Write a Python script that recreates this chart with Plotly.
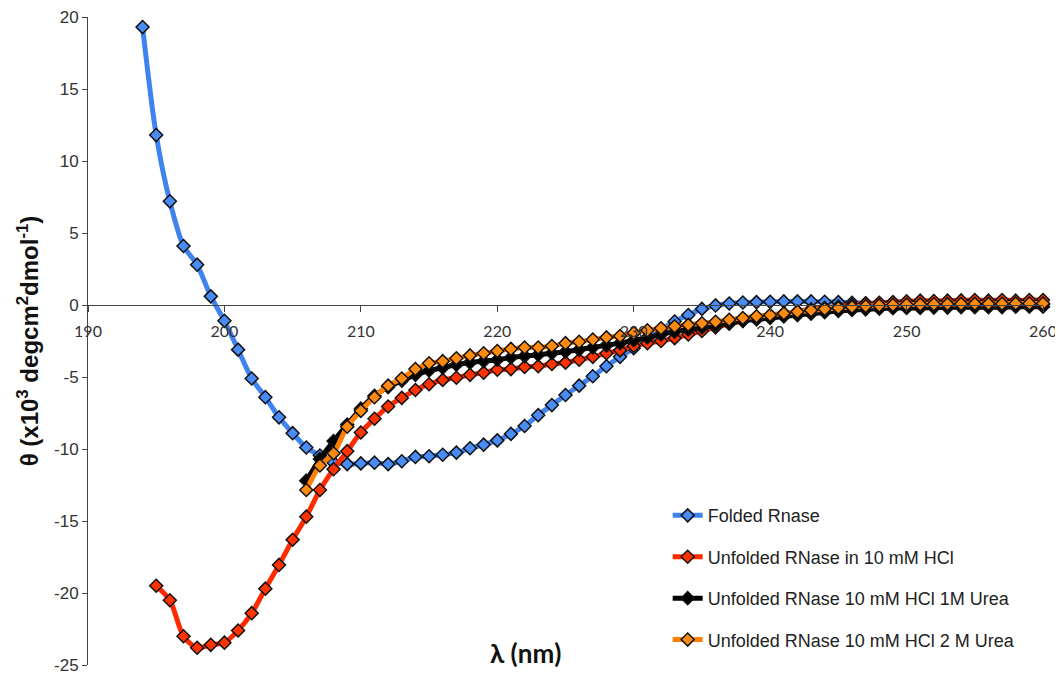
import plotly.graph_objects as go

wl_folded = list(range(194, 261))
folded = [19.3, 11.8, 7.2, 4.1, 2.8, 0.6, -1.1, -3.1, -5.1, -6.4,
          -7.8, -8.9, -9.9, -10.45, -10.95, -11.05, -11.0, -10.95, -11.05, -10.85,
          -10.55, -10.5, -10.4, -10.25, -9.95, -9.7, -9.4, -8.95, -8.4, -7.65,
          -6.95, -6.25, -5.6, -4.95, -4.25, -3.6, -3.0, -2.35, -1.7, -1.15,
          -0.7, -0.27, -0.03, 0.1, 0.17, 0.2, 0.22, 0.25, 0.25, 0.25,
          0.22, 0.2, 0.15, 0.12, 0.1, 0.08, 0.06, 0.05, 0.05, 0.05,
          0.05, 0.05, 0.05, 0.05, 0.05, 0.05, 0.05]

wl_hcl = list(range(195, 261))
unfolded_hcl = [-19.5, -20.5, -23.0, -23.8, -23.6, -23.45, -22.6, -21.4, -19.7, -18.05,
                -16.3, -14.7, -12.85, -11.4, -10.15, -8.85, -7.9, -7.05, -6.45, -5.9,
                -5.5, -5.2, -5.05, -4.85, -4.7, -4.5, -4.45, -4.3, -4.25, -4.1,
                -4.0, -3.8, -3.6, -3.35, -3.15, -2.85, -2.65, -2.5, -2.3, -2.05,
                -1.8, -1.55, -1.3, -1.1, -0.9, -0.75, -0.6, -0.45, -0.3, -0.2,
                -0.1, 0.0, 0.1, 0.15, 0.2, 0.25, 0.3, 0.28, 0.3, 0.32,
                0.35, 0.3, 0.35, 0.3, 0.35, 0.35]

wl_urea = list(range(206, 261))
unfolded_urea1 = [-12.2, -10.7, -9.45, -8.3, -7.2, -6.3, -5.7, -5.25, -4.85, -4.55,
                  -4.35, -4.15, -4.0, -3.9, -3.8, -3.65, -3.55, -3.45, -3.35, -3.25,
                  -3.1, -2.95, -2.8, -2.65, -2.45, -2.25, -2.05, -1.85, -1.7, -1.55,
                  -1.4, -1.25, -1.1, -1.0, -0.9, -0.8, -0.7, -0.6, -0.5, -0.42,
                  -0.35, -0.3, -0.25, -0.22, -0.2, -0.2, -0.18, -0.18, -0.15, -0.15,
                  -0.15, -0.15, -0.12, -0.12, -0.12]
unfolded_urea2 = [-12.85, -11.15, -10.3, -8.45, -7.35, -6.4, -5.6, -5.1, -4.45, -4.05,
                  -3.9, -3.7, -3.5, -3.35, -3.2, -3.05, -2.95, -2.95, -2.85, -2.65,
                  -2.55, -2.4, -2.25, -2.15, -1.95, -1.75, -1.62, -1.48, -1.38, -1.27,
                  -1.16, -1.02, -0.9, -0.78, -0.69, -0.58, -0.47, -0.37, -0.28, -0.2,
                  -0.13, -0.08, -0.03, 0.0, 0.02, 0.04, 0.05, 0.06, 0.07, 0.08,
                  0.08, 0.09, 0.1, 0.1, 0.1]

names = ["Folded Rnase", "Unfolded RNase in 10 mM HCl",
         "Unfolded RNase 10 mM HCl 1M Urea", "Unfolded RNase 10 mM HCl 2 M Urea"]
line_colors = ["#3f83f0", "#ff2a00", "#000000", "#ff8000"]
marker_colors = ["#4a8cf5", "#ff3300", "#000000", "#ff8a10"]

x_ticks = [190, 200, 210, 220, 230, 240, 250, 260]
y_ticks = [20, 15, 10, 5, 0, -5, -10, -15, -20, -25]
y_tick_text = ["20", "15", "10", "5", "0", "-5", "-10", "-15", "-20", "-25"]

series = [(wl_folded, folded), (wl_hcl, unfolded_hcl),
          (wl_urea, unfolded_urea1), (wl_urea, unfolded_urea2)]

fig = go.Figure()
for i, (xs, ys) in enumerate(series):
    fig.add_trace(go.Scatter(
        x=xs, y=ys, name=names[i], mode="lines+markers",
        legendgroup=f"g{i}",
        line=dict(color=line_colors[i], width=5, shape="spline", smoothing=0.8),
        marker=dict(symbol="diamond", size=10, color=marker_colors[i],
                    line=dict(color="#111111", width=1.5)),
        cliponaxis=False,
    ))

ymin, ymax = -25, 20
# page body has an 8px default margin, so the figure is sized to fit the window
fig.update_layout(
    width=1055, height=670,
    margin=dict(l=80, r=20, t=9, b=13),
    paper_bgcolor="white", plot_bgcolor="white",
    showlegend=True,
    legend=dict(x=0.607, y=0.259, xanchor="left", yanchor="top",
                font=dict(family="Liberation Sans, Arial", size=18, color="#222"),
                tracegroupgap=15, bgcolor="rgba(0,0,0,0)", itemwidth=30),
    xaxis=dict(range=[190, 260], tickvals=x_ticks, showgrid=False, zeroline=False,
               showline=True, linecolor="#444", linewidth=1, automargin=False,
               ticks="outside", ticklen=6, tickcolor="#444", ticklabeloverflow="allow",
               ticklabelstandoff=6,
               anchor="free", position=(0 - ymin) / (ymax - ymin),
               tickfont=dict(family="Lato, Carlito, sans-serif", size=16, color="#333")),
    yaxis=dict(range=[ymin, ymax], tickvals=y_ticks, ticktext=y_tick_text,
               showgrid=False, zeroline=False, automargin=False,
               showline=True, linecolor="#444", linewidth=1,
               ticks="outside", ticklen=5, tickcolor="#444", ticklabeloverflow="allow",
               tickfont=dict(family="Liberation Sans, Arial", size=17, color="#333"),
               title=dict(text="<b>θ (x10<sup>3</sup> degcm<sup>2</sup>dmol<sup>-1</sup>)</b>",
                          font=dict(family="Liberation Sans, Arial", size=24, color="#111"),
                          standoff=8)),
    annotations=[dict(text="<b>λ (nm)</b>", xref="paper", yref="paper",
                      x=(525 - 88) / 955, y=(665 - 653) / 648,
                      xanchor="center", yanchor="middle", showarrow=False,
                      font=dict(family="Lato, Open Sans, sans-serif", size=26, color="#111"))],
)

fig.write_html("out.html")
